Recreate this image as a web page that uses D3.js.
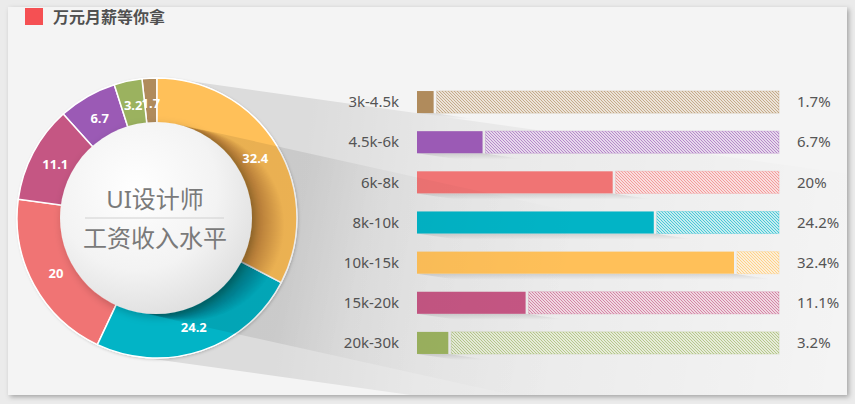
<!DOCTYPE html>
<html><head><meta charset="utf-8">
<script src="https://cdn.jsdelivr.net/npm/d3@7"></script>
<style>
html,body{margin:0;padding:0;background:#ebebeb;}
svg{display:block;}
</style></head>
<body><svg id="c" width="855" height="404"></svg>
<script>
const titleText = "万元月薪等你拿";
const centerLine1 = "UI设计师";
const centerLine2 = "工资收入水平";
const categories = ["3k-4.5k","4.5k-6k","6k-8k","8k-10k","10k-15k","15k-20k","20k-30k"];
const values = [1.7, 6.7, 20, 24.2, 32.4, 11.1, 3.2];
const pctLabels = ["1.7%","6.7%","20%","24.2%","32.4%","11.1%","3.2%"];
const colors = ["#b08b5c","#9b5ab5","#f07474","#02b4c6","#ffc059","#c55683","#9bb25f"];
const barMax = 37;

const svg = d3.select("#c");
const defs = svg.append("defs");
const FONT = "'Noto Sans','Noto Sans CJK SC',sans-serif";

const f = defs.append("filter").attr("id","cardShadow").attr("x","-5%").attr("y","-5%").attr("width","110%").attr("height","110%");
f.append("feDropShadow").attr("dx",2).attr("dy",2).attr("stdDeviation",2.5).attr("flood-color","#000").attr("flood-opacity",0.3);
const f2 = defs.append("filter").attr("id","diskShadow").attr("x","-30%").attr("y","-30%").attr("width","160%").attr("height","160%");
f2.append("feDropShadow").attr("dx",2).attr("dy",3).attr("stdDeviation",4).attr("flood-color","#000").attr("flood-opacity",0.22);
const f3 = defs.append("filter").attr("id","ringShadow").attr("x","-30%").attr("y","-30%").attr("width","160%").attr("height","160%");
f3.append("feDropShadow").attr("dx",1).attr("dy",1).attr("stdDeviation",1.5).attr("flood-color","#000").attr("flood-opacity",0.2);

defs.append("clipPath").attr("id","cardClip").append("rect").attr("x",8).attr("y",7).attr("width",839).attr("height",388);

svg.append("rect").attr("x",8).attr("y",7).attr("width",839).attr("height",388)
  .attr("fill","#f4f4f4").attr("filter","url(#cardShadow)");

const g = svg.append("g").attr("clip-path","url(#cardClip)");

g.append("rect").attr("x",25).attr("y",8).attr("width",18).attr("height",17).attr("fill","#f55053");
g.append("text").attr("x",53).attr("y",23).text(titleText)
  .attr("font-family",FONT).attr("font-size",16).attr("font-weight","bold").attr("fill","#505050");

const cx = 157, cy = 218, rOuter = 140, rInner = 90, rDisk = 96;

function longShadow(id, r, angDeg, L, stops){
  const a = angDeg*Math.PI/180, dx=Math.cos(a), dy=Math.sin(a);
  const top=[cx+r*Math.sin(a), cy-r*Math.cos(a)], bot=[cx-r*Math.sin(a), cy+r*Math.cos(a)];
  const grad = defs.append("linearGradient").attr("id",id).attr("gradientUnits","userSpaceOnUse")
    .attr("x1",cx).attr("y1",cy).attr("x2",cx+L*dx).attr("y2",cy+L*dy);
  stops.forEach(s=>grad.append("stop").attr("offset",s[0]).attr("stop-color","#000").attr("stop-opacity",s[1]));
  const pts=[top,[top[0]+L*dx,top[1]+L*dy],[bot[0]+L*dx,bot[1]+L*dy],bot];
  return "M"+pts.map(p=>p.join(",")).join("L")+"Z";
}

const gShadowBack = g.append("g");
const gBars = g.append("g");
const gRing = g.append("g").attr("transform",`translate(${cx},${cy})`);
const gShadowFront = g.append("g");
const gTop = g.append("g").attr("transform",`translate(${cx},${cy})`);

gShadowBack.append("path").attr("d", longShadow("ringLS", rOuter, 8, 700, [[0.19,0.10],[0.4,0.05],[1,0]]))
  .attr("fill","url(#ringLS)");

const y = d3.scaleBand().domain(categories).range([82,363]).paddingInner(0.45).paddingOuter(0.225);
const x = d3.scaleLinear().domain([0,barMax]).range([417,779]);
const barData = categories.map((c,i)=>({c, v:values[i], color:colors[i], label:pctLabels[i], i}));

barData.forEach(d=>{
  const p = defs.append("pattern").attr("id","hatch"+d.i).attr("patternUnits","userSpaceOnUse")
    .attr("width",3).attr("height",3);
  p.append("rect").attr("width",3).attr("height",3).attr("fill","#fbfbfb");
  p.append("path").attr("d","M0,0L3,3M-1,2L1,4M2,-1L4,1")
    .attr("stroke",d.color).attr("stroke-width",1.1).attr("stroke-opacity",0.75);
});

barData.forEach(d=>{
  const x0=x(0), x1=x(d.v), yb=y(d.c)+y.bandwidth();
  const L=40, s=0.15;
  const gr = defs.append("linearGradient").attr("id","bs"+d.i).attr("gradientUnits","userSpaceOnUse")
    .attr("x1",0).attr("y1",yb).attr("x2",0).attr("y2",yb+L*s);
  gr.append("stop").attr("offset",0).attr("stop-color","#000").attr("stop-opacity",0.12);
  gr.append("stop").attr("offset",1).attr("stop-color","#000").attr("stop-opacity",0);
  gBars.append("path").attr("d",`M${x0},${yb}L${x1},${yb}L${x1+L},${yb+L*s}L${x0+L},${yb+L*s}Z`)
    .attr("fill",`url(#bs${d.i})`);
});

const rows = gBars.append("g").selectAll("g").data(barData).join("g");
rows.append("rect").attr("x",d=>x(d.v)+3).attr("y",d=>y(d.c))
  .attr("width",d=>x.range()[1]-x(d.v)-3).attr("height",y.bandwidth())
  .attr("fill",d=>`url(#hatch${d.i})`).attr("stroke",d=>d.color).attr("stroke-opacity",0.25).attr("stroke-width",1);
rows.append("rect").attr("x",x(0)).attr("y",d=>y(d.c))
  .attr("width",d=>x(d.v)-x(0)).attr("height",y.bandwidth()).attr("fill",d=>d.color);
rows.append("text").attr("x",399).attr("y",d=>y(d.c)+y.bandwidth()/2).attr("dy","0.35em")
  .attr("text-anchor","end").text(d=>d.c)
  .attr("font-family",FONT).attr("font-size",15).attr("fill","#555");
rows.append("text").attr("x",797).attr("y",d=>y(d.c)+y.bandwidth()/2).attr("dy","0.35em")
  .text(d=>d.label).attr("font-family",FONT).attr("font-size",15).attr("fill","#555");

const pie = d3.pie().value(d=>d.v).sort((a,b)=>b.v-a.v);
const arc = d3.arc().innerRadius(rInner).outerRadius(rOuter);
const arcs = pie(barData);
gRing.append("circle").attr("r",rOuter+0.5).attr("fill","#fff").attr("filter","url(#ringShadow)");
gRing.selectAll("path.seg").data(arcs).join("path").attr("class","seg")
  .attr("d",arc).attr("fill",d=>d.data.color).attr("stroke","#fff").attr("stroke-width",1.5);

// disk long shadow: flat band + stacked falloff near the disk
const ang = 12.5*Math.PI/180;
gShadowFront.append("path").attr("d", longShadow("diskLS", rDisk, 12.5, 420,
   [[0,0.09],[0.333,0.08],[0.5,0.035],[1,0]]))
  .attr("fill","url(#diskLS)");
const steps = d3.range(1, 33, 1);
gShadowFront.selectAll("circle.st").data(steps).join("circle").attr("class","st")
  .attr("cx",t=>cx+t*Math.cos(ang)).attr("cy",t=>cy+t*Math.sin(ang)).attr("r",rDisk)
  .attr("fill","#000").attr("fill-opacity",0.0095);

gTop.selectAll("text.lab").data(arcs).join("text").attr("class","lab")
  .attr("transform",d=>`translate(${arc.centroid(d)})`).attr("dy","0.35em")
  .attr("text-anchor","middle").text(d=>d.data.v)
  .attr("font-family",FONT).attr("font-size",13).attr("font-weight","bold").attr("fill","#fff");

const rg = defs.append("radialGradient").attr("id","diskGrad").attr("cx","40%").attr("cy","35%").attr("r","70%");
rg.append("stop").attr("offset",0).attr("stop-color","#ffffff");
rg.append("stop").attr("offset",0.6).attr("stop-color","#f3f3f3");
rg.append("stop").attr("offset",1).attr("stop-color","#dedede");
gTop.append("circle").attr("cx",-1).attr("r",rDisk).attr("fill","url(#diskGrad)").attr("filter","url(#diskShadow)");

gTop.append("text").attr("x",-2).attr("y",-10).attr("text-anchor","middle").text(centerLine1)
  .attr("font-family",FONT).attr("font-size",24).attr("fill","#7a7a7a");
gTop.append("line").attr("x1",-72).attr("x2",67).attr("y1",0).attr("y2",0).attr("stroke","#d0d0d0").attr("stroke-width",1);
gTop.append("text").attr("x",-2).attr("y",29).attr("text-anchor","middle").text(centerLine2)
  .attr("font-family",FONT).attr("font-size",24).attr("fill","#7a7a7a");
</script>
</body></html>
